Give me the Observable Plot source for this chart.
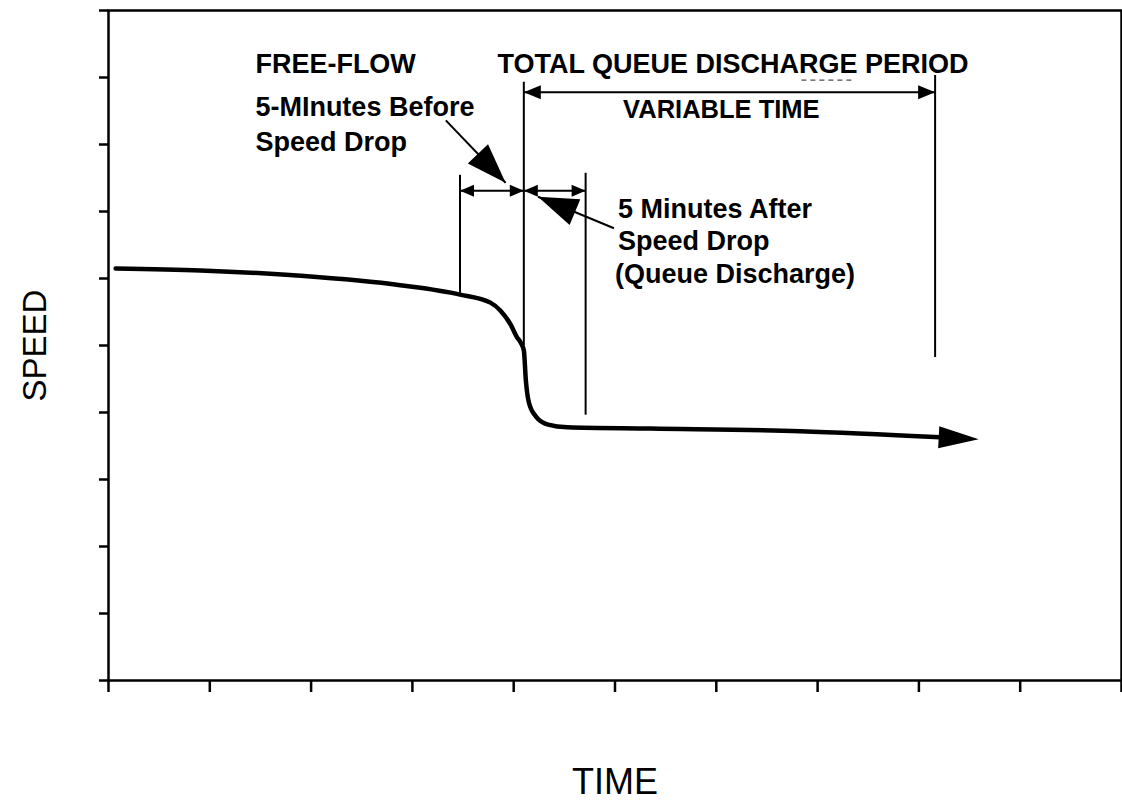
<!DOCTYPE html>
<html>
<head>
<meta charset="utf-8">
<script src="https://cdn.jsdelivr.net/npm/d3@7"></script>
<script src="https://cdn.jsdelivr.net/npm/@observablehq/plot@0.6"></script>
<style>
  html, body { margin: 0; padding: 0; background: #fff; overflow: hidden; }
  svg g[aria-label*="axis"] path, svg g[aria-label*="axis"] line { stroke-width: 2.5px; }
</style>
</head>
<body>
<div id="chart"></div>
<script>
// ---- data (all in chart units: time 0..10, speed 0..10) ----
const timeTicks = [0, 1, 2, 3, 4, 5, 6, 7, 8, 9, 10];
const speedTicks = [0, 1, 2, 3, 4, 5, 6, 7, 8, 9, 10];

// speed profile
const curveTime  = [0.07, 0.91, 1.90, 2.88, 3.47, 3.77, 3.87, 3.97, 4.03, 4.07, 4.10, 4.12, 4.15, 4.22, 4.34, 4.53, 5.35, 6.83, 8.21];
const curveSpeed = [6.15, 6.12, 6.04, 5.90, 5.76, 5.64, 5.52, 5.31, 5.13, 5.04, 4.93, 4.48, 4.15, 3.94, 3.82, 3.78, 3.76, 3.72, 3.63];
const curveTip = {time: 8.59, speed: 3.60};

// key times (vertical markers) and their extents
const markerTime   = [3.47, 4.10, 4.71, 8.16];
const markerTop    = [7.54, 8.93, 7.57, 9.03];
const markerBottom = [5.75, 5.00, 3.96, 4.82];

// dimension arrows
const dimStart = [3.47, 4.10, 4.10];
const dimEnd   = [4.10, 4.71, 8.16];
const dimSpeed = [7.31, 7.31, 8.78];

// annotation texts
const noteText  = ["FREE-FLOW", "5-MInutes Before", "Speed Drop", "TOTAL QUEUE DISCHARGE PERIOD", "5 Minutes After", "Speed Drop", "(Queue Discharge)"];
const noteTime  = [1.45, 1.45, 1.45, 3.84, 5.03, 5.03, 5.00];
const noteSpeed = [9.07, 8.42, 7.91, 9.07, 6.90, 6.42, 5.93];
const subText  = ["VARIABLE TIME"];
const subTime  = [5.08];
const subSpeed = [8.39];

// leader (pointer) arrows
const leaderFromTime  = [3.33, 4.99];
const leaderFromSpeed = [8.36, 6.75];
const leaderTipTime   = [3.92, 4.24];
const leaderTipSpeed  = [7.43, 7.22];

// scan smudge under "CHARGE"
const smudgeTime  = [6.84, 7.36];
const smudgeSpeed = [8.96, 8.96];

// ---- layout ----
const W = 1122, H = 802;
const M = {top: 10, right: 1, bottom: 122, left: 108};
const kx = (W - M.left - M.right) / 10;
const ky = (H - M.top - M.bottom) / 10;
const font = "'Liberation Sans', Arial, Helvetica, sans-serif";

// filled triangular arrow head, tip at origin, pointing at screen angle a (radians)
function head(a, len, wid) {
  const c = Math.cos(a), s = Math.sin(a);
  return {
    draw(ctx) {
      const bx = -len * c, by = -len * s;
      const px = -s * wid / 2, py = c * wid / 2;
      ctx.moveTo(0, 0);
      ctx.lineTo(bx + px, by + py);
      ctx.lineTo(bx - px, by - py);
      ctx.closePath();
    }
  };
}
const screenAngle = (t0, s0, t1, s1) => Math.atan2(-(s1 - s0) * ky, (t1 - t0) * kx);

const curve = curveTime.map((t, i) => ({time: t, speed: curveSpeed[i]}));
const markers = markerTime.map((t, i) => ({time: t, top: markerTop[i], bottom: markerBottom[i]}));
const dims = dimStart.map((t, i) => ({x1: t, x2: dimEnd[i], y: dimSpeed[i], big: i === 2}));
const notes = noteText.map((t, i) => ({text: t, time: noteTime[i], speed: noteSpeed[i]}));
const subs = subText.map((t, i) => ({text: t, time: subTime[i], speed: subSpeed[i]}));
const leaders = leaderFromTime.map((t, i) => ({x1: t, y1: leaderFromSpeed[i], x2: leaderTipTime[i], y2: leaderTipSpeed[i]}));

const last = curve[curve.length - 1];
const marks = [
  Plot.frame({stroke: "#000", strokeWidth: 2.5}),
  // vertical markers
  Plot.ruleX(markers, {x: "time", y1: "bottom", y2: "top", stroke: "#000", strokeWidth: 2}),
  // dimension lines
  Plot.link(dims, {x1: "x1", x2: "x2", y1: "y", y2: "y", stroke: "#000", strokeWidth: 2}),
  // smudge
  Plot.link([0], {x1: () => smudgeTime[0], x2: () => smudgeTime[1], y1: () => smudgeSpeed[0], y2: () => smudgeSpeed[1],
    stroke: "#000", strokeWidth: 1.2, strokeDasharray: "5,4", strokeOpacity: 0.7}),
  // speed curve
  Plot.line(curve, {x: "time", y: "speed", curve: "monotone-x", stroke: "#000", strokeWidth: 4.5, strokeLinecap: "round"}),
  Plot.link([{x1: last.time, y1: last.speed, x2: curveTip.time - 0.3, y2: curveTip.speed}], {x1: "x1", y1: "y1", x2: "x2", y2: "y2", stroke: "#000", strokeWidth: 5}),
  Plot.dot([curveTip], {x: "time", y: "speed", r: 5, fill: "#000", stroke: null,
    symbol: head(screenAngle(last.time, last.speed, curveTip.time, curveTip.speed), 40, 22)}),
  // leaders
  Plot.link(leaders, {x1: "x1", y1: "y1", x2: "x2", y2: "y2", stroke: "#000", strokeWidth: 2})
];
// leader heads
leaders.forEach(l => {
  marks.push(Plot.dot([l], {x: "x2", y: "y2", r: 5, fill: "#000", stroke: null,
    symbol: head(screenAngle(l.x1, l.y1, l.x2, l.y2), 40, 28)}));
});
// dimension heads (both ends)
dims.forEach(d => {
  const len = d.big ? 17 : 14, wid = d.big ? 14 : 12;
  marks.push(Plot.dot([d], {x: "x2", y: "y", r: 5, fill: "#000", stroke: null, symbol: head(0, len, wid)}));
  marks.push(Plot.dot([d], {x: "x1", y: "y", r: 5, fill: "#000", stroke: null, symbol: head(Math.PI, len, wid)}));
});
// annotation text
marks.push(Plot.text(notes, {x: "time", y: "speed", text: "text", textAnchor: "start", lineAnchor: "bottom",
  fontSize: 27, fontWeight: "bold", fill: "#000", fontFamily: font}));
marks.push(Plot.text(subs, {x: "time", y: "speed", text: "text", textAnchor: "start", lineAnchor: "bottom",
  fontSize: 25.5, fontWeight: "bold", fill: "#000", fontFamily: font}));
// axis titles
marks.push(Plot.text(["SPEED"], {frameAnchor: "left", dx: -73, rotate: -90, textAnchor: "middle", lineAnchor: "middle",
  fontSize: 33, fill: "#000", fontFamily: font}));
marks.push(Plot.text(["TIME"], {frameAnchor: "bottom", dy: 102, textAnchor: "middle", lineAnchor: "middle",
  fontSize: 36, fill: "#000", fontFamily: font}));

const chart = Plot.plot({
  width: W, height: H,
  marginTop: M.top, marginRight: M.right, marginBottom: M.bottom, marginLeft: M.left,
  style: {background: "#fff", color: "#000", fontFamily: font, overflow: "visible"},
  x: {domain: [0, 10], ticks: timeTicks, tickSize: 12, tickFormat: () => "", label: null},
  y: {domain: [0, 10], ticks: speedTicks, tickSize: 9, tickFormat: () => "", label: null},
  marks
});
document.getElementById("chart").appendChild(chart);
</script>
</body>
</html>
